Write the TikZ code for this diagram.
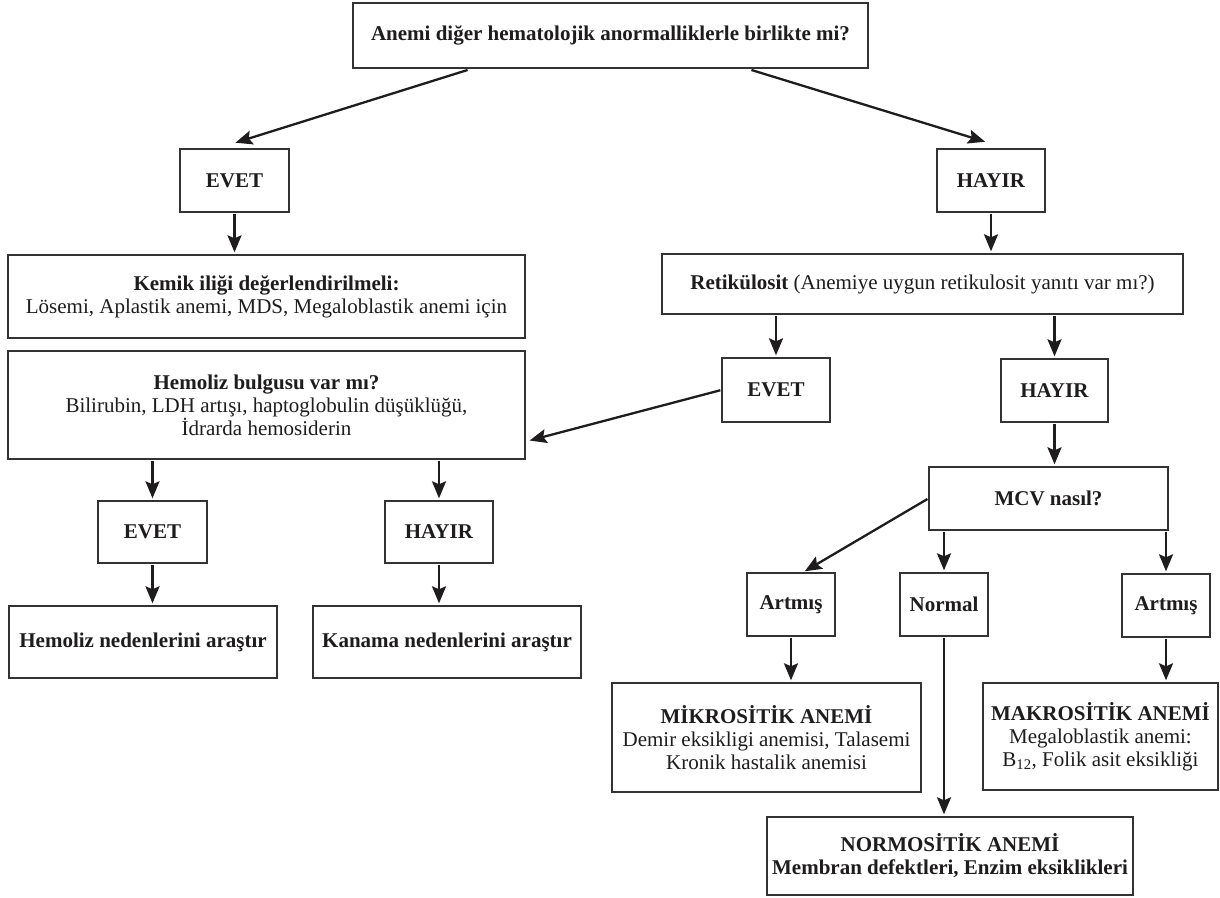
\documentclass[tikz,border=0pt]{standalone}
\usepackage{fontspec}
\setmainfont{Liberation Serif}
\usetikzlibrary{arrows.meta,calc}
\definecolor{boxgray}{HTML}{333333}
\definecolor{ink}{HTML}{1E1C1D}
\begin{document}
\begin{tikzpicture}[x=1pt,y=-1pt,
  box/.style={draw=boxgray, line width=1.4pt, inner sep=0pt, align=center,
    font=\fontsize{21}{23}\selectfont, text=ink, fill=white},
  sz/.style 2 args={minimum width=#1pt, minimum height=#2pt},
  arr/.style={draw=ink, line width=2.3pt, -{Stealth[length=17pt,width=14pt,inset=3pt]},
    shorten >=2pt, shorten <=1pt}]
\fill[white] (0,0) rectangle (1220,897);
\useasboundingbox (0,0) rectangle (1220,897);

% nodes
\node[box, sz={515}{65}] (top) at (610.5,35.5) {\textbf{Anemi diğer hematolojik anormalliklerle birlikte mi?}};
\node[box, sz={109}{63}] (evet1) at (234.5,180.5) {\textbf{EVET}};
\node[box, sz={108}{63}] (hayir1) at (991,180.5) {\textbf{HAYIR}};
\node[box, sz={517}{83}] (kemik) at (266.5,296.5) {\textbf{Kemik iliği değerlendirilmeli:}\\Lösemi, Aplastik anemi, MDS, Megaloblastik anemi için};
\node[box, sz={521}{60}] (retik) at (922.5,284) {\textbf{Retikülosit} (Anemiye uygun retikulosit yanıtı var mı?)};
\node[box, sz={517}{108}] (hemoliz) at (266.5,405) {\textbf{Hemoliz bulgusu var mı?}\\Bilirubin, LDH artışı, haptoglobulin düşüklüğü,\\İdrarda hemosiderin};
\node[box, sz={108}{64}] (evet2) at (776,390) {\textbf{EVET}};
\node[box, sz={107}{63}] (hayir2) at (1054.5,390.5) {\textbf{HAYIR}};
\node[box, sz={239}{63}] (mcv) at (1048.5,498.5) {\textbf{MCV nasıl?}};
\node[box, sz={109}{62}] (evet3) at (152.5,532) {\textbf{EVET}};
\node[box, sz={108}{62}] (hayir3) at (439,532) {\textbf{HAYIR}};
\node[box, sz={268}{72}] (hemned) at (143,642) {\textbf{Hemoliz nedenlerini araştır}};
\node[box, sz={268}{72}] (kanama) at (447,642) {\textbf{Kanama nedenlerini araştır}};
\node[box, sz={88}{63}] (artmis1) at (791,604.5) {\textbf{Artmış}};
\node[box, sz={88}{63}] (normal) at (944,604.5) {\textbf{Normal}};
\node[box, sz={88}{63}] (artmis2) at (1166,605.5) {\textbf{Artmış}};
\node[box, sz={309}{109}] (mikro) at (766.5,737.5) {\textbf{MİKROSİTİK ANEMİ}\\Demir eksikligi anemisi, Talasemi\\Kronik hastalik anemisi};
\node[box, sz={235}{107}] (makro) at (1100.5,736.5) {\textbf{MAKROSİTİK ANEMİ}\\Megaloblastik anemi:\\B\textsubscript{12}, Folik asit eksikliği};
\node[box, sz={366}{78}] (normo) at (950,856) {\textbf{NORMOSİTİK ANEMİ}\\\textbf{Membran defektleri, Enzim eksiklikleri}};

% connectors
\draw[arr] ($(top.south)+(-142,1)$) -- ($(evet1.north)+(-1,-5)$);
\draw[arr] ($(top.south)+(140,1)$) -- ($(hayir1.north)+(-4,-6)$);
\draw[arr] (evet1.south) -- (kemik.north -| evet1.south);
\draw[arr] (hayir1.south) -- (retik.north -| hayir1.south);
\draw[arr] (retik.south -| evet2.north) -- (evet2.north);
\draw[arr] (retik.south -| hayir2.north) -- (hayir2.north);
\draw[arr] (evet2.west) -- ($(hemoliz.east)+(2,36)$);
\draw[arr] (hayir2.south) -- (mcv.north -| hayir2.south);
\draw[arr] (hemoliz.south -| evet3.north) -- (evet3.north);
\draw[arr] (hemoliz.south -| hayir3.north) -- (hayir3.north);
\draw[arr] (evet3.south) -- (hemned.north -| evet3.south);
\draw[arr] (hayir3.south) -- (kanama.north -| hayir3.south);
\draw[arr] (mcv.west) -- ($(artmis1.north)+(12,0)$);
\draw[arr] (mcv.south -| normal.north) -- (normal.north);
\draw[arr] (mcv.south -| artmis2.north) -- (artmis2.north);
\draw[arr] (artmis1.south) -- (mikro.north -| artmis1.south);
\draw[arr] (artmis2.south) -- (makro.north -| artmis2.south);
\draw[arr] (normal.south) -- (normo.north -| normal.south);
\end{tikzpicture}
\end{document}
